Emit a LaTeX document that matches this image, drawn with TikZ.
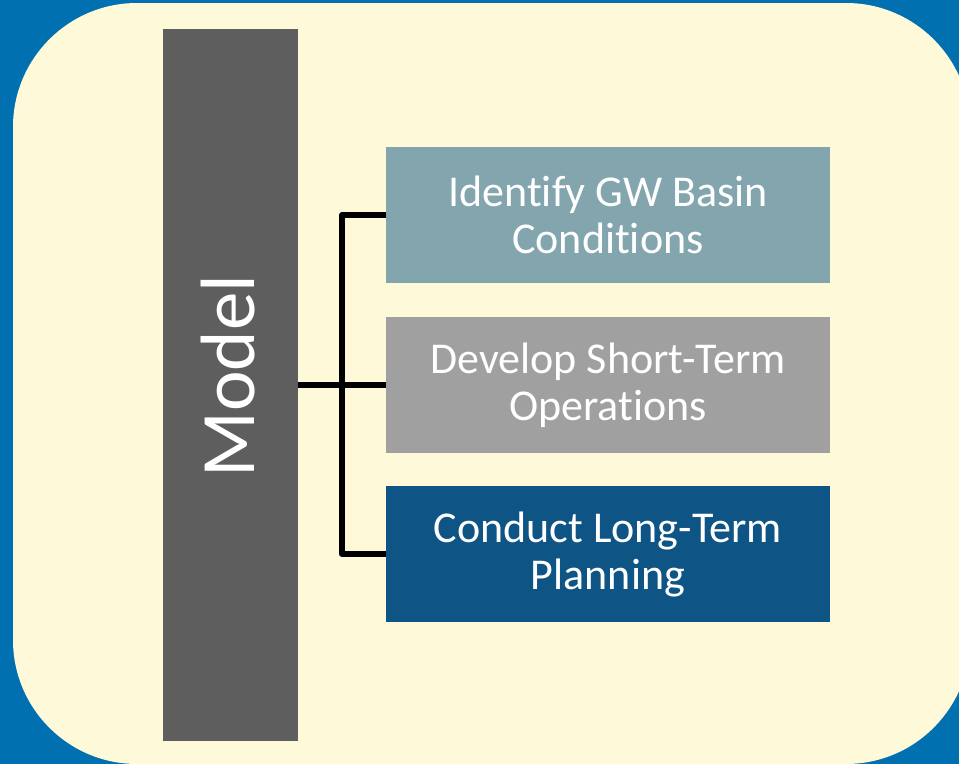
\documentclass[tikz,border=0pt]{standalone}
\usepackage{fontspec}
\setmainfont{Carlito}[Ligatures={NoCommon}]
\definecolor{bgblue}{HTML}{0070B0}
\definecolor{paper}{HTML}{FEF9D8}
\definecolor{bargray}{HTML}{5E5E5E}
\definecolor{tealgray}{HTML}{83A5AE}
\definecolor{midgray}{HTML}{A0A0A0}
\definecolor{deepblue}{HTML}{0E5586}
\tikzset{
  taskbox/.style={rectangle, inner sep=0pt, minimum width=444pt, minimum height=136pt,
    text=white, align=center, font=\fontsize{44}{47}\selectfont},
  link/.style={line width=6pt, black},
}
\begin{document}
\begin{tikzpicture}[x=1pt,y=-1pt]
\useasboundingbox (0,0) rectangle (959,764);
\fill[bgblue] (0,0) rectangle (959,764);
\begin{scope}
\clip (0,0) rectangle (959,764);
\fill[paper, rounded corners=124pt] (13,3) rectangle (970,764);
\end{scope}
\node[fill=bargray, inner sep=0pt, minimum width=135pt, minimum height=712pt] (model) at (230.5,385) {};
\node[rotate=90, text=white, font=\fontsize{77}{90}\selectfont] (modeltext) at (228,376) {Model};
\node[taskbox, fill=tealgray] (b1) at (608,215) {Identify GW Basin\\Conditions};
\node[taskbox, fill=midgray] (b2) at (608,385) {Develop Short-Term\\Operations};
\node[taskbox, fill=deepblue] (b3) at (608,554) {Conduct Long-Term\\Planning};
\coordinate (j) at (342,385);
\draw[link] (model.east |- j) -- (b2.west);
\draw[link, line join=round] (b1.west) -| (j) |- (b3.west);
\end{tikzpicture}
\end{document}
